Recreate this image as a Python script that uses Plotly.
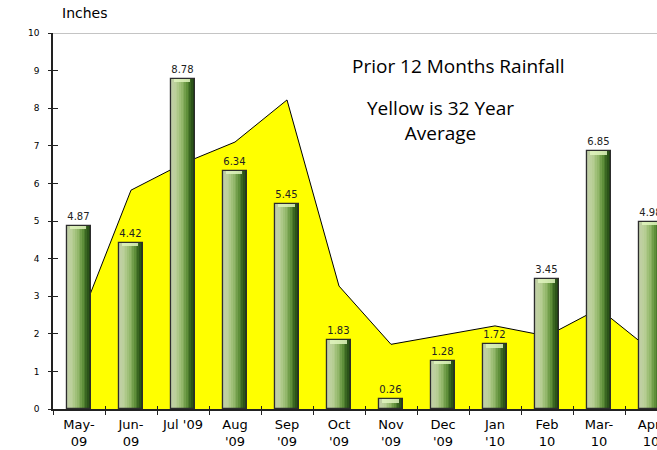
import plotly.graph_objects as go

# ---- data ----
months = ["May-<br>09", "Jun-<br>09", "Jul '09", "Aug<br>'09", "Sep<br>'09", "Oct<br>'09",
          "Nov<br>'09", "Dec<br>'09", "Jan<br>'10", "Feb<br>10", "Mar-<br>10", "Apr-<br>10"]
rainfall = [4.87, 4.42, 8.78, 6.34, 5.45, 1.83, 0.26, 1.28, 1.72, 3.45, 6.85, 4.98]
avg_32yr = [2.30, 5.82, 6.53, 7.10, 8.22, 3.27, 1.72, 1.96, 2.21, 1.94, 2.67, 1.56]
y_ticks = list(range(0, 11))

# ---- style helpers ----
def hex2rgb(h):
    h = h.lstrip("#")
    return tuple(int(h[i:i + 2], 16) for i in (0, 2, 4))

stops = [(0.0, "#a3ae94"), (0.12, "#c2d3a4"), (0.3, "#b1cb8c"), (0.5, "#8db364"),
         (0.68, "#5f8f3a"), (0.85, "#335f1c"), (1.0, "#1c3a10")]

def grad(t):
    for (t0, c0), (t1, c1) in zip(stops[:-1], stops[1:]):
        if t0 <= t <= t1:
            f = (t - t0) / (t1 - t0)
            a, b = hex2rgb(c0), hex2rgb(c1)
            return "rgb(%d,%d,%d)" % tuple(round(a[i] + (b[i] - a[i]) * f) for i in range(3))
    return stops[-1][1]

BW = 0.45
N = 14

fig = go.Figure()

# yellow 32-year average area (base subplot, drawn beneath bars)
fig.add_trace(go.Scatter(
    x=months, y=avg_32yr, mode="lines", fill="tozeroy",
    fillcolor="#FFFF00", line=dict(color="black", width=1),
    xaxis="x", yaxis="y", hoverinfo="skip", showlegend=False))

# cylinder-like bars built from vertical strips
for k in range(N):
    t = (k + 0.5) / N
    fig.add_trace(go.Bar(
        x=months, y=rainfall, xaxis="x2", yaxis="y2",
        width=BW / N + 0.006, offset=-BW / 2 + k * BW / N,
        marker=dict(color=grad(t), line=dict(width=0)),
        hoverinfo="skip", showlegend=False))

# top highlight cap
cap_h = 0.09
fig.add_trace(go.Bar(
    x=months, y=[cap_h] * len(rainfall), base=[v - cap_h for v in rainfall],
    xaxis="x2", yaxis="y2", width=BW * 0.7, offset=-BW * 0.38,
    marker=dict(color="rgba(225,245,190,0.85)", line=dict(width=0)),
    hoverinfo="skip", showlegend=False))

# outline + value labels
fig.add_trace(go.Bar(
    x=months, y=rainfall, xaxis="x2", yaxis="y2",
    width=BW, offset=-BW / 2,
    marker=dict(color="rgba(0,0,0,0)", line=dict(color="#2d2d2d", width=1.2)),
    text=[f"{v:.2f}" for v in rainfall], textposition="outside",
    constraintext="none",
    textfont=dict(family="DejaVu Sans", size=10, color="#222222"),
    hoverinfo="skip", showlegend=False))

xrange = [-0.5, 11.115]
tickfont_x = dict(family="DejaVu Sans", size=13, color="black")

fig.update_layout(
    width=657, height=450,
    margin=dict(l=53, r=0, t=33, b=41),
    paper_bgcolor="white", plot_bgcolor="white",
    barmode="overlay", bargap=0,
    showlegend=False,
    xaxis=dict(
        type="category", categoryorder="array", categoryarray=months,
        range=xrange, showgrid=False, zeroline=False, automargin=False,
        showline=True, linecolor="#222222", linewidth=1.5, tickangle=0,
        ticks="outside", tickson="boundaries", ticklen=4, tickcolor="#222222",
        tickfont=tickfont_x, ticklabelstandoff=3),
    yaxis=dict(
        range=[0, 10], tickvals=y_ticks, showgrid=False, zeroline=False, automargin=False,
        showline=True, linecolor="#222222", linewidth=1.5,
        ticks="outside", ticklen=3, tickcolor="#222222",
        tickfont=dict(family="DejaVu Sans", size=9, color="black"),
        ticklabelstandoff=7),
    xaxis2=dict(
        type="category", categoryorder="array", categoryarray=months,
        overlaying="x", matches="x", range=xrange, showgrid=False, zeroline=False,
        showline=False, showticklabels=False, automargin=False,
        ticks="inside", tickson="boundaries", ticklen=3, tickcolor="#222222"),
    yaxis2=dict(
        overlaying="y", matches="y", range=[0, 10], tickvals=y_ticks, automargin=False,
        showgrid=False, zeroline=False, showline=False, showticklabels=False,
        ticks="inside", ticklen=5, tickcolor="#222222"),
    shapes=[dict(type="line", xref="paper", x0=0, x1=1, yref="y", y0=10, y1=10,
                 line=dict(color="#c4c4c4", width=2), layer="below")],
    annotations=[
        dict(text="Inches", xref="paper", yref="paper", x=0.0116, y=1.0,
             xanchor="left", yanchor="bottom", yshift=10, showarrow=False,
             font=dict(family="DejaVu Sans", size=14, color="black")),
        dict(text="Prior 12 Months Rainfall", xref="x", yref="y", x=7.3, y=9.12,
             xanchor="center", yanchor="middle", showarrow=False,
             font=dict(family="Open Sans", size=19, color="black")),
        dict(text="Yellow is 32 Year<br>Average", xref="x", yref="y", x=6.96, y=7.68,
             xanchor="center", yanchor="middle", showarrow=False,
             font=dict(family="Open Sans", size=19, color="black")),
    ],
)

fig.write_html("out.html", post_script="document.body.style.margin='0px';",
               config={"displayModeBar": False})
